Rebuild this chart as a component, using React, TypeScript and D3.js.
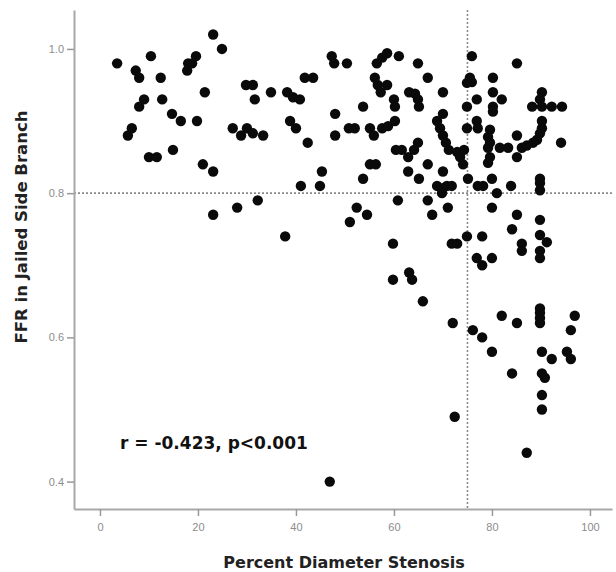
import { useEffect, useRef } from "react";
import * as d3 from "d3";

// Percent diameter stenosis (x) and FFR in jailed side branch (y)
const stenosis = [
  3.5, 7.3, 8.0, 10.4, 12.4, 12.7, 8.0, 9.0, 5.7, 6.5, 10.0, 11.6, 14.9, 14.7, 16.5, 19.8,
  18.0, 17.8, 18.8, 19.6, 21.4, 23.1, 24.9, 21.0, 23.1, 23.1, 27.1, 28.8, 30.0, 31.2, 33.3,
  29.8, 31.2, 31.6, 34.9, 38.2, 39.4, 40.8, 38.8, 40.0, 41.8, 43.5, 42.4, 28.0, 32.2, 37.8,
  41.0, 44.9, 45.3, 47.3, 47.8, 50.4, 56.5, 57.6, 58.6, 61.0, 64.9, 66.9, 70.0, 48.0, 53.7,
  50.8, 52.0, 55.1, 55.9, 57.6, 58.8, 60.2, 56.1, 56.7, 57.3, 58.6, 60.0, 60.2, 63.1, 64.3,
  64.9, 65.1, 48.0, 60.4, 61.6, 62.9, 64.1, 64.9, 55.1, 56.3, 53.7, 60.8, 52.4, 54.5, 51.0,
  59.8, 59.8, 63.1, 63.7, 65.9, 46.9, 68.8, 69.4, 70.0, 70.6, 71.2, 70.0, 66.9, 62.9, 65.1,
  70.0, 68.8, 70.0, 70.8, 71.8, 69.8, 66.9, 67.8, 71.0, 72.9, 73.5, 74.1, 74.3, 75.9, 75.5,
  75.9, 74.9, 74.9, 74.9, 76.9, 77.1, 76.9, 75.1, 77.1, 78.2, 74.9, 71.8, 72.9, 78.0, 76.9,
  78.0, 80.0, 72.0, 72.4, 76.1, 78.0, 80.0, 80.2, 80.2, 82.0, 80.2, 80.2, 79.6, 79.2, 79.6,
  79.2, 79.6, 79.2, 81.6, 83.3, 85.1, 85.1, 85.1, 86.1, 87.1, 80.0, 81.0, 83.9, 80.0, 85.1,
  84.1, 86.1, 86.1, 82.0, 85.1, 84.1, 87.1, 90.2, 89.8, 88.2, 90.2, 92.2, 94.3, 90.2, 90.2,
  89.8, 89.2, 88.4, 94.1, 89.8, 89.8, 89.8, 89.8, 89.8, 91.2, 89.8, 89.8, 89.8, 89.8, 89.8,
  89.8, 90.2, 92.2, 90.2, 90.8, 90.2, 90.2, 96.9, 96.1, 95.3, 96.1,
];
const ffr = [
  0.98, 0.97, 0.96, 0.99, 0.96, 0.93, 0.92, 0.93, 0.88, 0.89, 0.85, 0.85, 0.86, 0.91, 0.9, 0.9,
  0.98, 0.97, 0.98, 0.99, 0.94, 1.02, 1.0, 0.84, 0.83, 0.77, 0.89, 0.88, 0.89, 0.883, 0.88,
  0.95, 0.95, 0.93, 0.94, 0.94, 0.933, 0.93, 0.9, 0.89, 0.96, 0.96, 0.87, 0.78, 0.79, 0.74,
  0.81, 0.81, 0.83, 0.99, 0.98, 0.98, 0.98, 0.988, 0.994, 0.99, 0.98, 0.96, 0.94, 0.91, 0.92,
  0.89, 0.89, 0.89, 0.88, 0.89, 0.893, 0.9, 0.96, 0.95, 0.94, 0.95, 0.93, 0.92, 0.94, 0.938,
  0.93, 0.92, 0.88, 0.86, 0.86, 0.85, 0.86, 0.87, 0.84, 0.84, 0.82, 0.79, 0.78, 0.77, 0.76,
  0.73, 0.68, 0.69, 0.68, 0.65, 0.4, 0.9, 0.89, 0.88, 0.87, 0.86, 0.91, 0.84, 0.83, 0.82,
  0.83, 0.81, 0.807, 0.81, 0.81, 0.8, 0.79, 0.77, 0.78, 0.857, 0.85, 0.84, 0.86, 0.99, 0.96,
  0.954, 0.953, 0.92, 0.89, 0.9, 0.89, 0.93, 0.82, 0.81, 0.81, 0.74, 0.73, 0.73, 0.74, 0.71,
  0.7, 0.71, 0.62, 0.49, 0.61, 0.6, 0.58, 0.96, 0.94, 0.93, 0.92, 0.913, 0.888, 0.878, 0.87,
  0.863, 0.85, 0.842, 0.863, 0.863, 0.98, 0.88, 0.85, 0.863, 0.866, 0.82, 0.8, 0.81, 0.78, 0.77,
  0.75, 0.73, 0.72, 0.63, 0.62, 0.55, 0.44, 0.94, 0.93, 0.92, 0.92, 0.92, 0.92, 0.9, 0.89,
  0.883, 0.874, 0.87, 0.87, 0.82, 0.814, 0.804, 0.763, 0.742, 0.732, 0.72, 0.71, 0.64, 0.634, 0.627,
  0.62, 0.58, 0.57, 0.55, 0.544, 0.52, 0.5, 0.63, 0.61, 0.58, 0.57,
];

const xTicks = [0, 20, 40, 60, 80, 100];
const yTicks = [0.4, 0.6, 0.8, 1.0];
const cutX = 75;
const cutY = 0.8;

const WIDTH = 616;
const HEIGHT = 572;

export default function App() {
  const svgRef = useRef<SVGSVGElement | null>(null);

  useEffect(() => {
    const svg = d3.select(svgRef.current);
    svg.selectAll("*").remove();

    const x = d3.scaleLinear().domain([-5.3, 104.5]).range([74, 612]);
    const y = d3.scaleLinear().domain([0.362, 1.054]).range([509, 10]);
    const axisColor = "#a8a8a8";
    const tickFont = "'Liberation Sans', Arial, sans-serif";
    const titleFont = "'DejaVu Sans', Verdana, sans-serif";

    const points = stenosis.map((s, i) => ({ s, f: ffr[i] }));

    // reference lines
    svg
      .append("line")
      .attr("x1", x.range()[0])
      .attr("x2", x.range()[1])
      .attr("y1", y(cutY))
      .attr("y2", y(cutY))
      .attr("stroke", "#8a8a8a")
      .attr("stroke-width", 1.6)
      .attr("stroke-dasharray", "2,2");
    svg
      .append("line")
      .attr("x1", x(cutX))
      .attr("x2", x(cutX))
      .attr("y1", y.range()[1])
      .attr("y2", y.range()[0])
      .attr("stroke", "#8a8a8a")
      .attr("stroke-width", 1.6)
      .attr("stroke-dasharray", "2,2");

    // dots
    svg
      .append("g")
      .selectAll("circle")
      .data(points)
      .enter()
      .append("circle")
      .attr("cx", (d) => x(d.s))
      .attr("cy", (d) => y(d.f))
      .attr("r", 5.2)
      .attr("fill", "#0a0a0a");

    // axes
    const yAxis = svg
      .append("g")
      .attr("transform", `translate(${x.range()[0]},0)`)
      .call(d3.axisLeft(y).tickValues(yTicks).tickFormat(d3.format(".1f")).tickSize(7).tickSizeOuter(0).tickPadding(3));
    const xAxis = svg
      .append("g")
      .attr("transform", `translate(0,${y.range()[0]})`)
      .call(d3.axisBottom(x).tickValues(xTicks).tickFormat(d3.format("d")).tickSize(7).tickSizeOuter(0).tickPadding(7));

    [yAxis, xAxis].forEach((g) => {
      g.select(".domain").attr("stroke", axisColor).attr("stroke-width", 2);
      g.selectAll(".tick line").attr("stroke", "#999").attr("stroke-width", 1.5);
      g.selectAll(".tick text")
        .attr("fill", "#8c8c8c")
        .attr("font-size", 11)
        .attr("font-family", tickFont);
    });

    // axis titles
    svg
      .append("text")
      .attr("transform", `translate(22,227) rotate(-90)`)
      .attr("text-anchor", "middle")
      .attr("dominant-baseline", "middle")
      .attr("font-family", titleFont)
      .attr("font-weight", "bold")
      .attr("font-size", 16.5)
      .attr("fill", "#222")
      .text("FFR in Jailed Side Branch");
    svg
      .append("text")
      .attr("x", 344)
      .attr("y", 568)
      .attr("text-anchor", "middle")
      .attr("font-family", titleFont)
      .attr("font-weight", "bold")
      .attr("font-size", 16)
      .attr("fill", "#222")
      .text("Percent Diameter Stenosis");

    // correlation note
    svg
      .append("text")
      .attr("x", 120)
      .attr("y", 449)
      .attr("font-family", titleFont)
      .attr("font-weight", "bold")
      .attr("font-size", 17)
      .attr("fill", "#111")
      .text("r = -0.423, p<0.001");
  }, []);

  return (
    <svg
      ref={svgRef}
      width={WIDTH}
      height={HEIGHT}
      style={{ position: "absolute", left: 0, top: 0, background: "#fff" }}
    />
  );
}
